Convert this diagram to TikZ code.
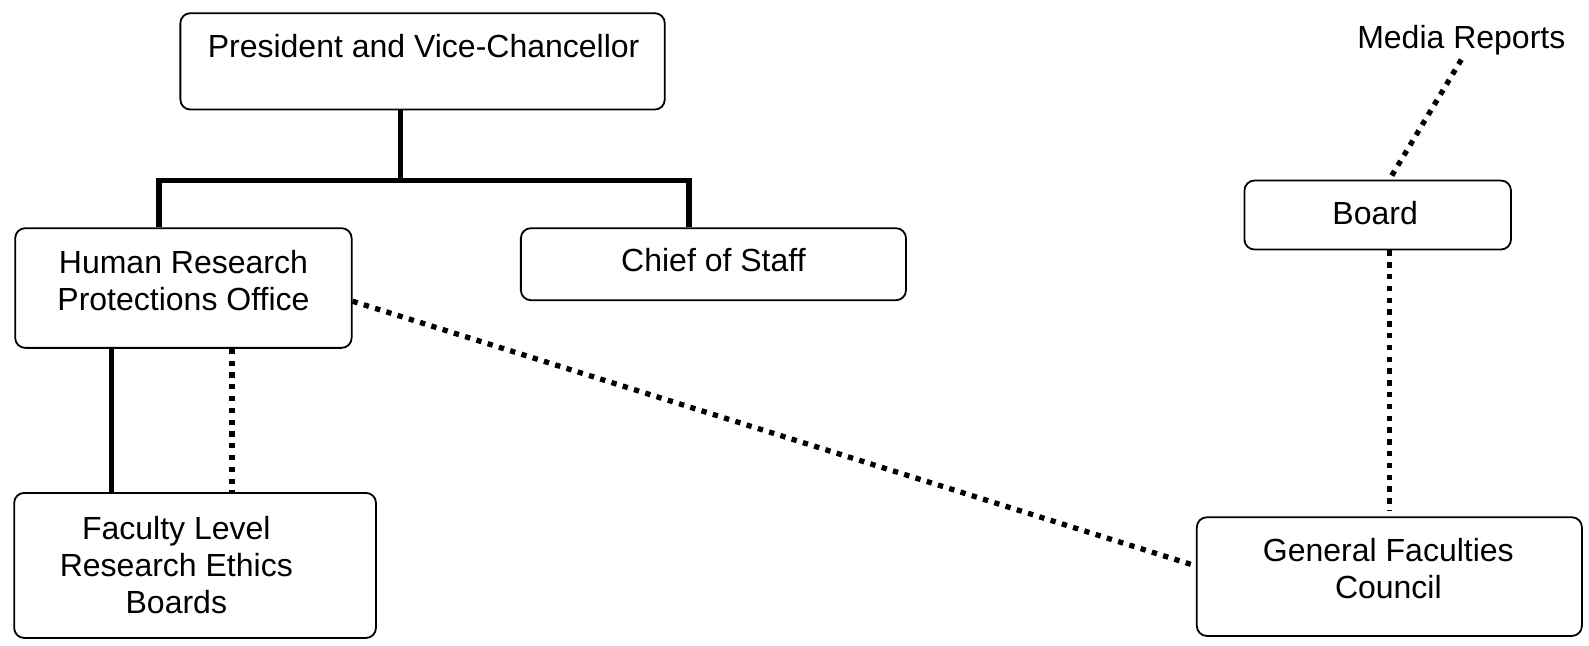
\documentclass[tikz,border=0pt]{standalone}
\usepackage{fontspec}
\setmainfont{Liberation Sans}
\usetikzlibrary{fit}
\begin{document}
\begin{tikzpicture}[x=1.0134pt,y=-1.0142pt,
  box/.style={draw, line width=1.8pt, rounded corners=10pt, inner sep=0pt},
  lbl/.style={inner sep=0pt, align=center, font=\fontsize{32}{37}\selectfont},
  solidline/.style={line width=5.5pt},
  dotline/.style={line width=5.3pt, dash pattern=on 5.3pt off 6.5pt}]
\useasboundingbox (0,0) rectangle (1568,636);
% boxes
\node[box, fit={(178,13) (656,108)}] (pres) {};
\node[lbl] (presT) at (418,45) {President and Vice-Chancellor};
\node[box, fit={(15,225) (347,343)}] (hrpo) {};
\node[lbl] (hrpoT) at (181,277) {Human Research\\Protections Office};
\node[box, fit={(514,225) (894,296)}] (cos) {};
\node[lbl] (cosT) at (704,256) {Chief of Staff};
\node[box, fit={(1228,178) (1491,246)}] (board) {};
\node[lbl] (boardT) at (1357,210) {Board};
\node[lbl] (media) at (1442,40) {Media Reports};
\node[box, fit={(14,486) (371,629)}] (flreb) {};
\node[lbl] (flrebT) at (174,557) {Faculty Level\\Research Ethics\\Boards};
\node[box, fit={(1181,510) (1561,627)}] (gfc) {};
\node[lbl] (gfcT) at (1370,561) {General Faculties\\Council};
% helper coordinates
\coordinate (tee) at (395,178);
\coordinate (lt) at (157,178);
\coordinate (rt) at (680,178);
\coordinate (sx) at (110,0);
\coordinate (dx) at (229,0);
\coordinate (bx) at (1371,0);
\coordinate (hy) at (0,297);
\coordinate (gy) at (0,558);
% solid connectors
\draw[solidline] (pres.south -| tee) -- (tee);
\draw[solidline] (hrpo.north -| lt) |- (rt) -- (cos.north -| rt);
\draw[solidline] (hrpo.south -| sx) -- (flreb.north -| sx);
% dotted connectors
\draw[dotline] (hrpo.south -| dx) -- (flreb.north -| dx);
\draw[dotline] (hrpo.east |- hy) -- (gfc.west |- gy);
\draw[dotline] ([yshift=-4pt]media.south) -- (board.north -| bx);
\draw[dotline, shorten >=5pt] (board.south -| bx) -- (gfc.north -| bx);
\end{tikzpicture}
\end{document}
